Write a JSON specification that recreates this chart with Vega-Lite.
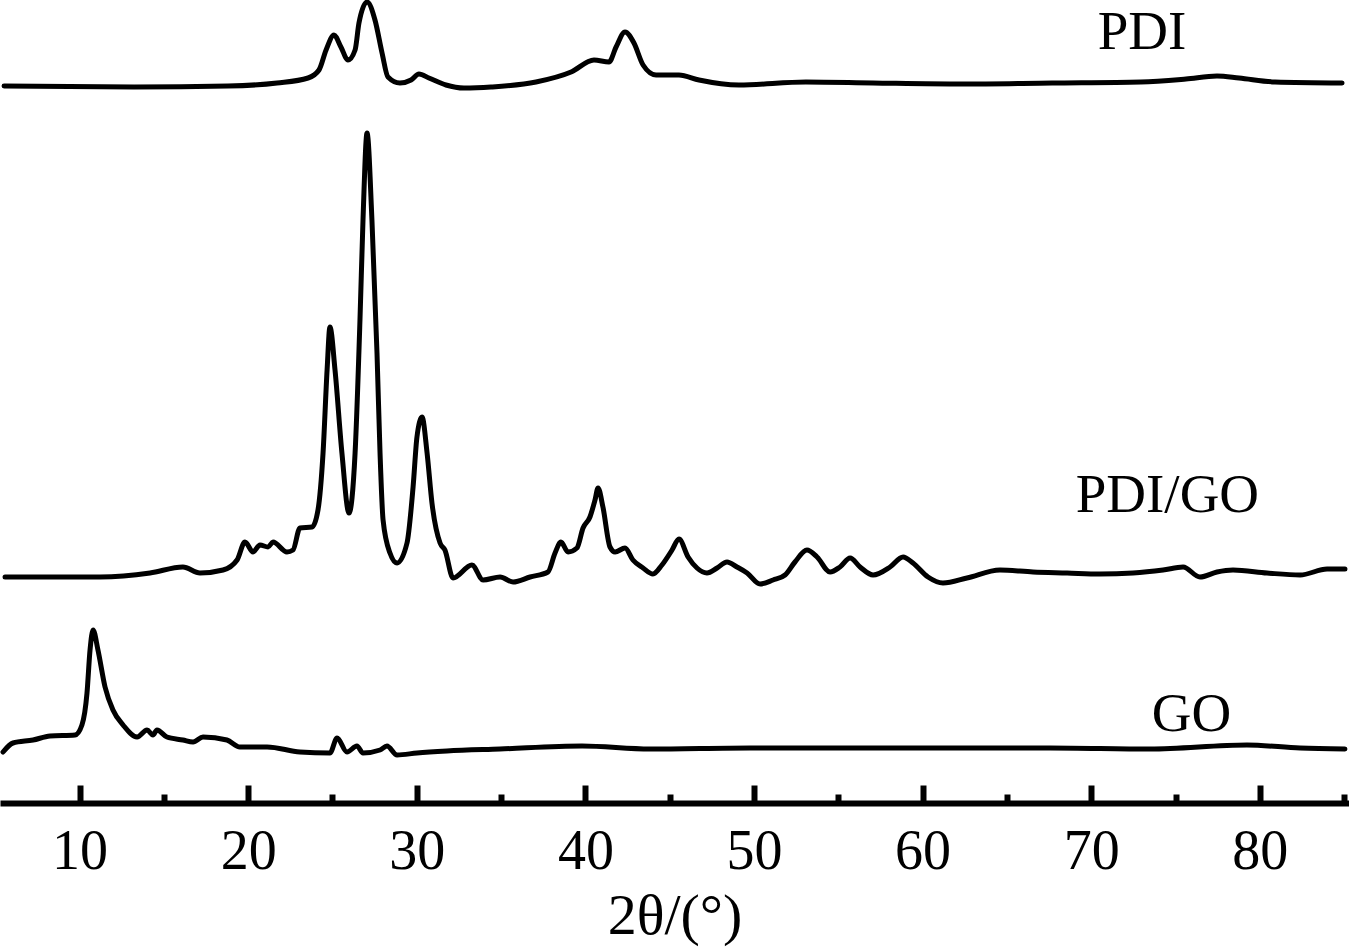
{
  "$schema": "https://vega.github.io/schema/vega-lite/v6.json",
  "width": 1349,
  "height": 803,
  "autosize": {"type": "none"},
  "padding": {"left": 0, "top": 0, "right": 0, "bottom": 144},
  "background": "white",
  "config": {"view": {"stroke": null}, "font": "Liberation Serif"},
  "datasets": {
    "curves": [
      {"sample": "PDI", "angle": 5.52, "intensity": 717},
      {"sample": "PDI", "angle": 13.23, "intensity": 716},
      {"sample": "PDI", "angle": 18.80, "intensity": 717},
      {"sample": "PDI", "angle": 21.71, "intensity": 720},
      {"sample": "PDI", "angle": 23.55, "intensity": 725},
      {"sample": "PDI", "angle": 24.20, "intensity": 733},
      {"sample": "PDI", "angle": 24.62, "intensity": 753},
      {"sample": "PDI", "angle": 25.09, "intensity": 768},
      {"sample": "PDI", "angle": 25.50, "intensity": 756},
      {"sample": "PDI", "angle": 25.92, "intensity": 743},
      {"sample": "PDI", "angle": 26.34, "intensity": 753},
      {"sample": "PDI", "angle": 26.57, "intensity": 780},
      {"sample": "PDI", "angle": 27.05, "intensity": 801},
      {"sample": "PDI", "angle": 27.52, "intensity": 783},
      {"sample": "PDI", "angle": 27.94, "intensity": 750},
      {"sample": "PDI", "angle": 28.29, "intensity": 726},
      {"sample": "PDI", "angle": 29.00, "intensity": 720},
      {"sample": "PDI", "angle": 29.66, "intensity": 723},
      {"sample": "PDI", "angle": 30.13, "intensity": 729},
      {"sample": "PDI", "angle": 30.72, "intensity": 725},
      {"sample": "PDI", "angle": 31.73, "intensity": 718},
      {"sample": "PDI", "angle": 32.80, "intensity": 715},
      {"sample": "PDI", "angle": 34.40, "intensity": 716},
      {"sample": "PDI", "angle": 37.07, "intensity": 721},
      {"sample": "PDI", "angle": 39.15, "intensity": 731},
      {"sample": "PDI", "angle": 40.51, "intensity": 743},
      {"sample": "PDI", "angle": 41.40, "intensity": 741},
      {"sample": "PDI", "angle": 41.82, "intensity": 756},
      {"sample": "PDI", "angle": 42.35, "intensity": 771},
      {"sample": "PDI", "angle": 42.88, "intensity": 760},
      {"sample": "PDI", "angle": 43.42, "intensity": 738},
      {"sample": "PDI", "angle": 44.19, "intensity": 728},
      {"sample": "PDI", "angle": 45.55, "intensity": 728},
      {"sample": "PDI", "angle": 46.74, "intensity": 723},
      {"sample": "PDI", "angle": 49.11, "intensity": 718},
      {"sample": "PDI", "angle": 53.08, "intensity": 721},
      {"sample": "PDI", "angle": 57.06, "intensity": 720},
      {"sample": "PDI", "angle": 62.34, "intensity": 719},
      {"sample": "PDI", "angle": 67.68, "intensity": 720},
      {"sample": "PDI", "angle": 72.95, "intensity": 721},
      {"sample": "PDI", "angle": 75.62, "intensity": 724},
      {"sample": "PDI", "angle": 77.46, "intensity": 727},
      {"sample": "PDI", "angle": 78.77, "intensity": 725},
      {"sample": "PDI", "angle": 80.90, "intensity": 721},
      {"sample": "PDI", "angle": 84.88, "intensity": 720},

      {"sample": "PDI/GO", "angle": 5.58, "intensity": 226},
      {"sample": "PDI/GO", "angle": 11.21, "intensity": 226},
      {"sample": "PDI/GO", "angle": 14.18, "intensity": 230},
      {"sample": "PDI/GO", "angle": 16.13, "intensity": 236},
      {"sample": "PDI/GO", "angle": 17.14, "intensity": 230},
      {"sample": "PDI/GO", "angle": 18.51, "intensity": 233},
      {"sample": "PDI/GO", "angle": 19.34, "intensity": 243},
      {"sample": "PDI/GO", "angle": 19.81, "intensity": 261},
      {"sample": "PDI/GO", "angle": 20.29, "intensity": 251},
      {"sample": "PDI/GO", "angle": 20.70, "intensity": 258},
      {"sample": "PDI/GO", "angle": 21.18, "intensity": 256},
      {"sample": "PDI/GO", "angle": 21.47, "intensity": 261},
      {"sample": "PDI/GO", "angle": 22.30, "intensity": 251},
      {"sample": "PDI/GO", "angle": 22.66, "intensity": 253},
      {"sample": "PDI/GO", "angle": 23.07, "intensity": 275},
      {"sample": "PDI/GO", "angle": 23.79, "intensity": 276},
      {"sample": "PDI/GO", "angle": 24.14, "intensity": 293},
      {"sample": "PDI/GO", "angle": 24.44, "intensity": 350},
      {"sample": "PDI/GO", "angle": 24.68, "intensity": 433},
      {"sample": "PDI/GO", "angle": 24.85, "intensity": 476},
      {"sample": "PDI/GO", "angle": 25.15, "intensity": 433},
      {"sample": "PDI/GO", "angle": 25.56, "intensity": 350},
      {"sample": "PDI/GO", "angle": 25.98, "intensity": 290},
      {"sample": "PDI/GO", "angle": 26.34, "intensity": 350},
      {"sample": "PDI/GO", "angle": 26.63, "intensity": 483},
      {"sample": "PDI/GO", "angle": 26.81, "intensity": 583},
      {"sample": "PDI/GO", "angle": 27.05, "intensity": 670},
      {"sample": "PDI/GO", "angle": 27.34, "intensity": 583},
      {"sample": "PDI/GO", "angle": 27.64, "intensity": 450},
      {"sample": "PDI/GO", "angle": 27.82, "intensity": 350},
      {"sample": "PDI/GO", "angle": 28.00, "intensity": 283},
      {"sample": "PDI/GO", "angle": 28.41, "intensity": 250},
      {"sample": "PDI/GO", "angle": 28.83, "intensity": 240},
      {"sample": "PDI/GO", "angle": 29.42, "intensity": 260},
      {"sample": "PDI/GO", "angle": 29.78, "intensity": 316},
      {"sample": "PDI/GO", "angle": 30.01, "intensity": 366},
      {"sample": "PDI/GO", "angle": 30.31, "intensity": 386},
      {"sample": "PDI/GO", "angle": 30.61, "intensity": 350},
      {"sample": "PDI/GO", "angle": 30.90, "intensity": 300},
      {"sample": "PDI/GO", "angle": 31.38, "intensity": 260},
      {"sample": "PDI/GO", "angle": 31.67, "intensity": 253},
      {"sample": "PDI/GO", "angle": 32.15, "intensity": 225},
      {"sample": "PDI/GO", "angle": 33.27, "intensity": 238},
      {"sample": "PDI/GO", "angle": 33.93, "intensity": 223},
      {"sample": "PDI/GO", "angle": 34.94, "intensity": 226},
      {"sample": "PDI/GO", "angle": 35.71, "intensity": 221},
      {"sample": "PDI/GO", "angle": 36.72, "intensity": 226},
      {"sample": "PDI/GO", "angle": 37.78, "intensity": 231},
      {"sample": "PDI/GO", "angle": 38.20, "intensity": 250},
      {"sample": "PDI/GO", "angle": 38.55, "intensity": 261},
      {"sample": "PDI/GO", "angle": 38.97, "intensity": 251},
      {"sample": "PDI/GO", "angle": 39.50, "intensity": 255},
      {"sample": "PDI/GO", "angle": 39.86, "intensity": 275},
      {"sample": "PDI/GO", "angle": 40.27, "intensity": 286},
      {"sample": "PDI/GO", "angle": 40.57, "intensity": 303},
      {"sample": "PDI/GO", "angle": 40.75, "intensity": 315},
      {"sample": "PDI/GO", "angle": 41.04, "intensity": 296},
      {"sample": "PDI/GO", "angle": 41.46, "intensity": 256},
      {"sample": "PDI/GO", "angle": 41.76, "intensity": 251},
      {"sample": "PDI/GO", "angle": 42.35, "intensity": 255},
      {"sample": "PDI/GO", "angle": 42.82, "intensity": 243},
      {"sample": "PDI/GO", "angle": 43.42, "intensity": 235},
      {"sample": "PDI/GO", "angle": 44.01, "intensity": 229},
      {"sample": "PDI/GO", "angle": 44.54, "intensity": 238},
      {"sample": "PDI/GO", "angle": 45.14, "intensity": 253},
      {"sample": "PDI/GO", "angle": 45.55, "intensity": 264},
      {"sample": "PDI/GO", "angle": 46.09, "intensity": 246},
      {"sample": "PDI/GO", "angle": 46.62, "intensity": 235},
      {"sample": "PDI/GO", "angle": 47.21, "intensity": 230},
      {"sample": "PDI/GO", "angle": 47.81, "intensity": 235},
      {"sample": "PDI/GO", "angle": 48.40, "intensity": 241},
      {"sample": "PDI/GO", "angle": 48.99, "intensity": 236},
      {"sample": "PDI/GO", "angle": 49.59, "intensity": 230},
      {"sample": "PDI/GO", "angle": 50.36, "intensity": 219},
      {"sample": "PDI/GO", "angle": 51.13, "intensity": 223},
      {"sample": "PDI/GO", "angle": 51.84, "intensity": 228},
      {"sample": "PDI/GO", "angle": 52.43, "intensity": 241},
      {"sample": "PDI/GO", "angle": 53.14, "intensity": 253},
      {"sample": "PDI/GO", "angle": 53.74, "intensity": 246},
      {"sample": "PDI/GO", "angle": 54.51, "intensity": 231},
      {"sample": "PDI/GO", "angle": 55.10, "intensity": 236},
      {"sample": "PDI/GO", "angle": 55.70, "intensity": 245},
      {"sample": "PDI/GO", "angle": 56.29, "intensity": 236},
      {"sample": "PDI/GO", "angle": 57.06, "intensity": 228},
      {"sample": "PDI/GO", "angle": 58.07, "intensity": 236},
      {"sample": "PDI/GO", "angle": 58.84, "intensity": 246},
      {"sample": "PDI/GO", "angle": 59.43, "intensity": 240},
      {"sample": "PDI/GO", "angle": 60.32, "intensity": 226},
      {"sample": "PDI/GO", "angle": 61.21, "intensity": 220},
      {"sample": "PDI/GO", "angle": 62.63, "intensity": 225},
      {"sample": "PDI/GO", "angle": 64.59, "intensity": 233},
      {"sample": "PDI/GO", "angle": 66.55, "intensity": 231},
      {"sample": "PDI/GO", "angle": 68.57, "intensity": 230},
      {"sample": "PDI/GO", "angle": 70.52, "intensity": 229},
      {"sample": "PDI/GO", "angle": 72.48, "intensity": 230},
      {"sample": "PDI/GO", "angle": 74.26, "intensity": 233},
      {"sample": "PDI/GO", "angle": 75.45, "intensity": 236},
      {"sample": "PDI/GO", "angle": 76.45, "intensity": 226},
      {"sample": "PDI/GO", "angle": 77.46, "intensity": 231},
      {"sample": "PDI/GO", "angle": 78.41, "intensity": 233},
      {"sample": "PDI/GO", "angle": 80.43, "intensity": 230},
      {"sample": "PDI/GO", "angle": 82.39, "intensity": 228},
      {"sample": "PDI/GO", "angle": 83.99, "intensity": 234},
      {"sample": "PDI/GO", "angle": 85.05, "intensity": 234},

      {"sample": "GO", "angle": 5.46, "intensity": 51},
      {"sample": "GO", "angle": 6.05, "intensity": 60},
      {"sample": "GO", "angle": 7.24, "intensity": 63},
      {"sample": "GO", "angle": 8.25, "intensity": 67},
      {"sample": "GO", "angle": 9.73, "intensity": 68},
      {"sample": "GO", "angle": 10.14, "intensity": 78},
      {"sample": "GO", "angle": 10.44, "intensity": 110},
      {"sample": "GO", "angle": 10.62, "intensity": 153},
      {"sample": "GO", "angle": 10.80, "intensity": 173},
      {"sample": "GO", "angle": 11.09, "intensity": 153},
      {"sample": "GO", "angle": 11.51, "intensity": 116},
      {"sample": "GO", "angle": 11.98, "intensity": 93},
      {"sample": "GO", "angle": 12.58, "intensity": 78},
      {"sample": "GO", "angle": 13.41, "intensity": 66},
      {"sample": "GO", "angle": 14.00, "intensity": 73},
      {"sample": "GO", "angle": 14.35, "intensity": 68},
      {"sample": "GO", "angle": 14.59, "intensity": 73},
      {"sample": "GO", "angle": 15.18, "intensity": 66},
      {"sample": "GO", "angle": 16.13, "intensity": 63},
      {"sample": "GO", "angle": 16.73, "intensity": 61},
      {"sample": "GO", "angle": 17.32, "intensity": 66},
      {"sample": "GO", "angle": 18.74, "intensity": 63},
      {"sample": "GO", "angle": 19.51, "intensity": 56},
      {"sample": "GO", "angle": 21.12, "intensity": 56},
      {"sample": "GO", "angle": 23.07, "intensity": 51},
      {"sample": "GO", "angle": 24.85, "intensity": 50},
      {"sample": "GO", "angle": 25.27, "intensity": 65},
      {"sample": "GO", "angle": 25.86, "intensity": 51},
      {"sample": "GO", "angle": 26.45, "intensity": 57},
      {"sample": "GO", "angle": 26.81, "intensity": 50},
      {"sample": "GO", "angle": 27.82, "intensity": 53},
      {"sample": "GO", "angle": 28.23, "intensity": 57},
      {"sample": "GO", "angle": 28.83, "intensity": 48},
      {"sample": "GO", "angle": 30.01, "intensity": 50},
      {"sample": "GO", "angle": 31.79, "intensity": 52},
      {"sample": "GO", "angle": 34.93, "intensity": 54},
      {"sample": "GO", "angle": 39.80, "intensity": 57},
      {"sample": "GO", "angle": 43.83, "intensity": 54},
      {"sample": "GO", "angle": 49.76, "intensity": 55},
      {"sample": "GO", "angle": 55.69, "intensity": 55},
      {"sample": "GO", "angle": 61.63, "intensity": 55},
      {"sample": "GO", "angle": 67.56, "intensity": 55},
      {"sample": "GO", "angle": 73.49, "intensity": 54},
      {"sample": "GO", "angle": 79.24, "intensity": 58},
      {"sample": "GO", "angle": 82.39, "intensity": 55},
      {"sample": "GO", "angle": 85.05, "intensity": 54}
    ],
    "labels": [
      {"label": "PDI", "angle": 73.01, "intensity": 754},
      {"label": "PDI/GO", "angle": 74.52, "intensity": 291},
      {"label": "GO", "angle": 75.95, "intensity": 72}
    ]
  },
  "resolve": {"axis": {"x": "independent"}},
  "layer": [
    {
      "data": {"name": "curves"},
      "mark": {"type": "line", "color": "black", "strokeWidth": 5, "strokeJoin": "round", "strokeCap": "round", "interpolate": "monotone"},
      "encoding": {
        "x": {
          "field": "angle", "type": "quantitative",
          "scale": {"domain": [5.28, 85.29], "nice": false, "zero": false},
          "axis": {
            "orient": "bottom",
            "values": [10, 20, 30, 40, 50, 60, 70, 80],
            "grid": false,
            "domain": true, "domainColor": "black", "domainWidth": 6,
            "ticks": true, "tickColor": "black", "tickWidth": 6, "tickSize": -18,
            "labels": true, "labelFont": "Liberation Serif", "labelFontSize": 56, "labelColor": "black",
            "labelPadding": 39, "labelFlush": false, "labelBaseline": "top",
            "title": "2θ/(°)", "titleFont": "Liberation Serif", "titleFontSize": 58, "titleFontWeight": "normal",
            "titleColor": "black", "titleBaseline": "alphabetic", "titleY": 130
          }
        },
        "y": {
          "field": "intensity", "type": "quantitative",
          "scale": {"domain": [0, 803], "nice": false, "zero": false},
          "axis": null
        },
        "detail": {"field": "sample", "type": "nominal"}
      }
    },
    {
      "data": {"name": "labels"},
      "mark": {"type": "text", "font": "Liberation Serif", "fontSize": 55, "align": "center", "baseline": "alphabetic", "color": "black"},
      "encoding": {
        "x": {
          "field": "angle", "type": "quantitative",
          "axis": {
            "orient": "bottom",
            "values": [15, 25, 35, 45, 55, 65, 75, 85],
            "grid": false, "domain": false, "labels": false, "title": null,
            "ticks": true, "tickColor": "black", "tickWidth": 6, "tickSize": -9
          }
        },
        "y": {"field": "intensity", "type": "quantitative", "axis": null},
        "text": {"field": "label", "type": "nominal"}
      }
    }
  ]
}
